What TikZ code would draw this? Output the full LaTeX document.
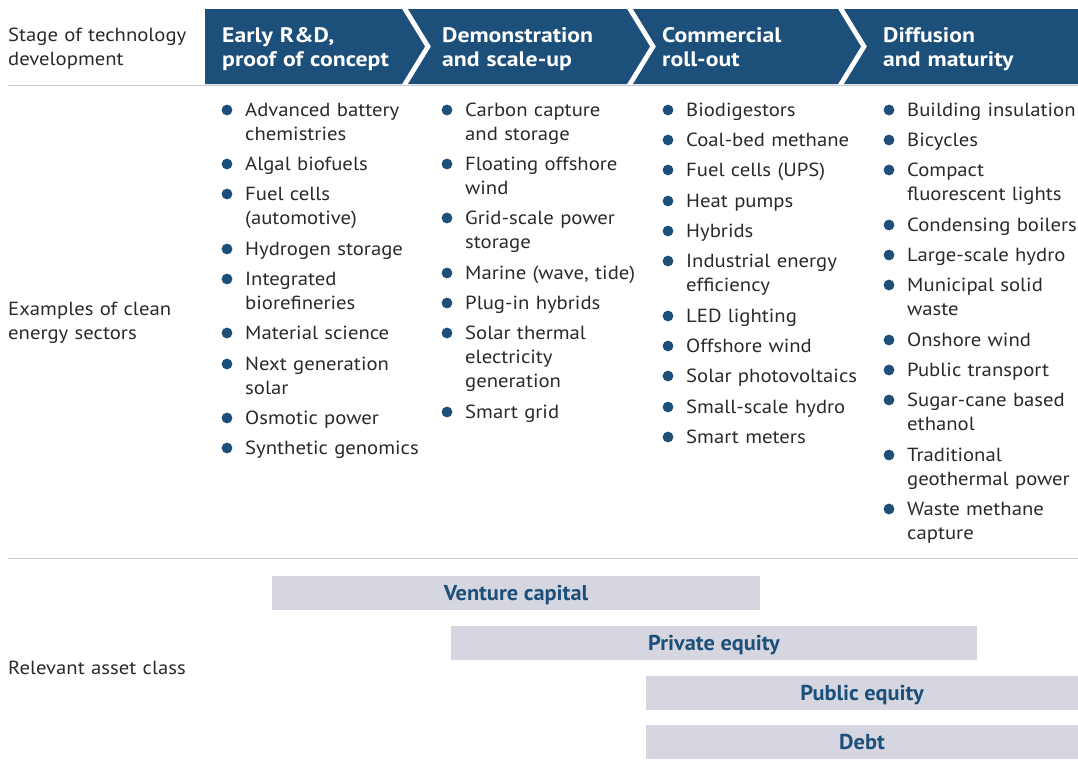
\documentclass[tikz,border=0pt]{standalone}
\usepackage{fontspec}
\setmainfont[FakeStretch=1.09]{PT Sans}
\newfontfamily\headfont[FakeStretch=1.13]{PT Sans}
\newfontfamily\barfont[FakeStretch=1.04]{PT Sans}
\usetikzlibrary{positioning}
\definecolor{navy}{HTML}{1C4F79}
\definecolor{barfill}{HTML}{D6D6E0}
\definecolor{rulegrey}{HTML}{C8C8D4}
\definecolor{bodytext}{HTML}{2A2A2A}
\tikzset{
  lbl/.style={anchor=base west,align=left,inner sep=0pt,text width=200pt,text=bodytext,font=\fontsize{19}{24}\selectfont},
  item/.style={lbl},
  stage/.style={lbl,text=white,font=\headfont\fontsize{21}{24}\selectfont\bfseries},
  bar/.style={fill=barfill,inner sep=0pt,text=navy,text depth=0pt,minimum height=34pt,
    font=\barfont\fontsize{21.5}{24}\selectfont\bfseries},
  dot/.style={fill=navy}
}
\begin{document}
\begin{tikzpicture}[x=1pt,y=-1pt]
    \useasboundingbox (0,0) rectangle (1078,769);
    % header chevrons
    \foreach \l/\r/\n/\t in {205/402/0/23,408/627/23/23,633/838/23/23,844/1078/23/0}
        \fill[navy] (\l,9) -- (\r,9) -- (\r+\t,46.5) -- (\r,84) -- (\l,84) -- (\l+\n,46.5) -- cycle;
    \node[stage] (s1) at (222,42) {Early R\&D,\\proof of concept};
    \node[stage] (s2) at (442,42) {Demonstration\\and scale-up};
    \node[stage] (s3) at (662,42) {Commercial\\roll-out};
    \node[stage] (s4) at (883,42) {Diffusion\\and maturity};
    \draw[rulegrey,line width=1.2pt] (8,85.5) -- (1078,85.5);
    \draw[rulegrey,line width=1.2pt] (8,558.5) -- (1078,558.5);
    % row labels
    \node[lbl] (stage) at (8,41) {Stage of technology\\development};
    \node[lbl] (sect) at (8,315) {Examples of clean\\energy sectors};
    \node[lbl] (asset) at (8,674) {Relevant asset class};
    % sectors
    \foreach \y/\t [count=\i] in {116/{Advanced battery\\chemistries},170/Algal biofuels,
        200/{Fuel cells\\(automotive)},255/Hydrogen storage,285/{Integrated\\biorefineries},
        339/Material science,370/{Next generation\\solar},424/Osmotic power,454/Synthetic genomics}{
        \node[item] (rd\i) at (245,\y) {\t};
        \fill[dot] (rd\i.base west) ++(-18,-6) circle (5.4pt);
    }
    \foreach \y/\t [count=\i] in {116/{Carbon capture\\and storage},170/{Floating offshore\\wind},
        224/{Grid-scale power\\storage},279/{Marine (wave, tide)},309/Plug-in hybrids,
        339/{Solar thermal\\electricity\\generation},418/Smart grid}{
        \node[item] (demo\i) at (465,\y) {\t};
        \fill[dot] (demo\i.base west) ++(-18,-6) circle (5.4pt);
    }
    \foreach \y/\t [count=\i] in {116/Biodigestors,146/Coal-bed methane,176/Fuel cells (UPS),
        207/Heat pumps,237/Hybrids,267/{Industrial energy\\efficiency},322/LED lighting,
        352/Offshore wind,382/Solar photovoltaics,413/Small-scale hydro,443/Smart meters}{
        \node[item] (comm\i) at (686,\y) {\t};
        \fill[dot] (comm\i.base west) ++(-18,-6) circle (5.4pt);
    }
    \foreach \y/\t [count=\i] in {116/Building insulation,146/Bicycles,
        176/{Compact\\fluorescent lights},231/Condensing boilers,261/Large-scale hydro,
        291/{Municipal solid\\waste},346/Onshore wind,376/Public transport,
        406/{Sugar-cane based\\ethanol},461/{Traditional\\geothermal power},515/{Waste methane\\capture}}{
        \node[item] (diff\i) at (907,\y) {\t};
        \fill[dot] (diff\i.base west) ++(-18,-6) circle (5.4pt);
    }
    % asset classes
    \node[bar,minimum width=488pt] (vc) at (516,593) {Venture capital};
    \node[bar,minimum width=526pt] (pe) at (714,643) {Private equity};
    \node[bar,minimum width=432pt] (pub) at (862,693) {Public equity};
    \node[bar,minimum width=432pt] (debt) at (862,742) {Debt};
\end{tikzpicture}
\end{document}
